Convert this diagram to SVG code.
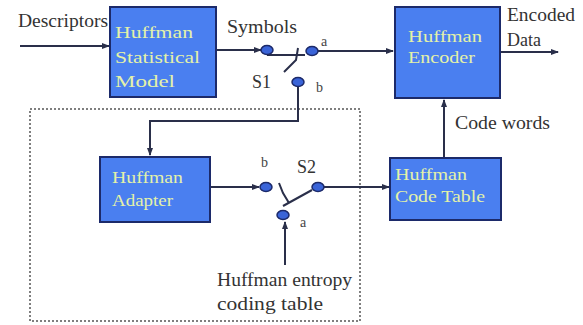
<svg xmlns="http://www.w3.org/2000/svg" width="583" height="325" viewBox="0 0 583 325">
<defs>
<marker id="ah" markerWidth="8" markerHeight="6" refX="7" refY="3" orient="auto" markerUnits="userSpaceOnUse">
<path d="M0,0 L8,3 L0,6 z" fill="#2a2f4a"/>
</marker>
<style>
.box{fill:#4a7ff0;stroke:#1c2a6a;stroke-width:2}
text{font-family:"Liberation Serif","Times New Roman","DejaVu Serif",serif}
.bt{font-size:17px;fill:#e4f2a8}
.lb{font-size:18px;fill:#333}
.sm{font-size:14px;fill:#444}
.ln{stroke:#2a2f4a;stroke-width:2;fill:none}
.sw{fill:#3a64d8;stroke:#1c2a6a;stroke-width:1.5}
</style>
</defs>
<rect width="583" height="325" fill="#fff"/>
<rect x="30" y="109" width="330" height="212" fill="none" stroke="#555" stroke-width="1.5" stroke-dasharray="2,2"/>
<g id="connectors">
<line class="ln" x1="20" y1="46" x2="109" y2="46" marker-end="url(#ah)"/>
<line class="ln" x1="216" y1="50" x2="261" y2="50" marker-end="url(#ah)"/>
<line class="ln" x1="267" y1="55" x2="305" y2="55"/>
<path class="ln" d="M298,48 L296,60 L284,72"/>
<line class="ln" x1="318" y1="51" x2="393" y2="51" marker-end="url(#ah)"/>
<line class="ln" x1="500" y1="52" x2="558" y2="52" marker-end="url(#ah)"/>
<path class="ln" d="M298,86 L298,121 L150,121 L150,155" marker-end="url(#ah)"/>
<line class="ln" x1="444" y1="157" x2="444" y2="100" marker-end="url(#ah)"/>
<line class="ln" x1="210" y1="187" x2="259" y2="187" marker-end="url(#ah)"/>
<path class="ln" d="M312,190 L283,206"/>
<path class="ln" d="M279,183 L283,193 L289,203"/>
<line class="ln" x1="324" y1="187" x2="389" y2="187" marker-end="url(#ah)"/>
<line class="ln" x1="285" y1="265" x2="285" y2="222" marker-end="url(#ah)"/>
</g>
<g id="stat-model">
<rect class="box" x="110" y="7" width="106" height="90"/>
<text class="bt" x="115" y="38" textLength="78" lengthAdjust="spacingAndGlyphs">Huffman</text>
<text class="bt" x="115" y="63" textLength="85" lengthAdjust="spacingAndGlyphs">Statistical</text>
<text class="bt" x="115" y="87" textLength="60" lengthAdjust="spacingAndGlyphs">Model</text>
</g>
<g id="encoder">
<rect class="box" x="395" y="7" width="105" height="91"/>
<text class="bt" x="408" y="42" textLength="74" lengthAdjust="spacingAndGlyphs">Huffman</text>
<text class="bt" x="408" y="63" textLength="67" lengthAdjust="spacingAndGlyphs">Encoder</text>
</g>
<g id="adapter">
<rect class="box" x="100" y="157" width="110" height="65"/>
<text class="bt" x="112" y="183" textLength="71" lengthAdjust="spacingAndGlyphs">Huffman</text>
<text class="bt" x="112" y="206" textLength="61" lengthAdjust="spacingAndGlyphs">Adapter</text>
</g>
<g id="code-table">
<rect class="box" x="390" y="158" width="111" height="62"/>
<text class="bt" x="395" y="180" textLength="72" lengthAdjust="spacingAndGlyphs">Huffman</text>
<text class="bt" x="395" y="202" textLength="90" lengthAdjust="spacingAndGlyphs">Code Table</text>
</g>
<g id="switch-s1">
<ellipse class="sw" cx="267" cy="50" rx="6" ry="4.5"/>
<ellipse class="sw" cx="312" cy="51" rx="6" ry="4.5"/>
<ellipse class="sw" cx="298" cy="82" rx="6" ry="4.5"/>
<text class="lb" x="252" y="88">S1</text>
<text class="sm" x="321" y="46">a</text>
<text class="sm" x="316" y="92">b</text>
</g>
<g id="switch-s2">
<ellipse class="sw" cx="266" cy="187" rx="6" ry="4.5"/>
<ellipse class="sw" cx="318" cy="187" rx="6" ry="4.5"/>
<ellipse class="sw" cx="283" cy="215" rx="6" ry="4.5"/>
<text class="lb" x="297" y="173">S2</text>
<text class="sm" x="261" y="167" fill="#999">b</text>
<text class="sm" x="300" y="227">a</text>
</g>
<g id="labels">
<text class="lb" x="18" y="27" textLength="90" lengthAdjust="spacingAndGlyphs">Descriptors</text>
<text class="lb" x="227" y="33" textLength="70" lengthAdjust="spacingAndGlyphs">Symbols</text>
<text class="lb" x="507" y="21" textLength="68" lengthAdjust="spacingAndGlyphs">Encoded</text>
<text class="lb" x="507" y="46">Data</text>
<text class="lb" x="455" y="129" textLength="95" lengthAdjust="spacingAndGlyphs">Code words</text>
<text class="lb" x="217" y="286" textLength="135" lengthAdjust="spacingAndGlyphs">Huffman entropy</text>
<text class="lb" x="217" y="310" textLength="106" lengthAdjust="spacingAndGlyphs">coding table</text>
</g>
</svg>
